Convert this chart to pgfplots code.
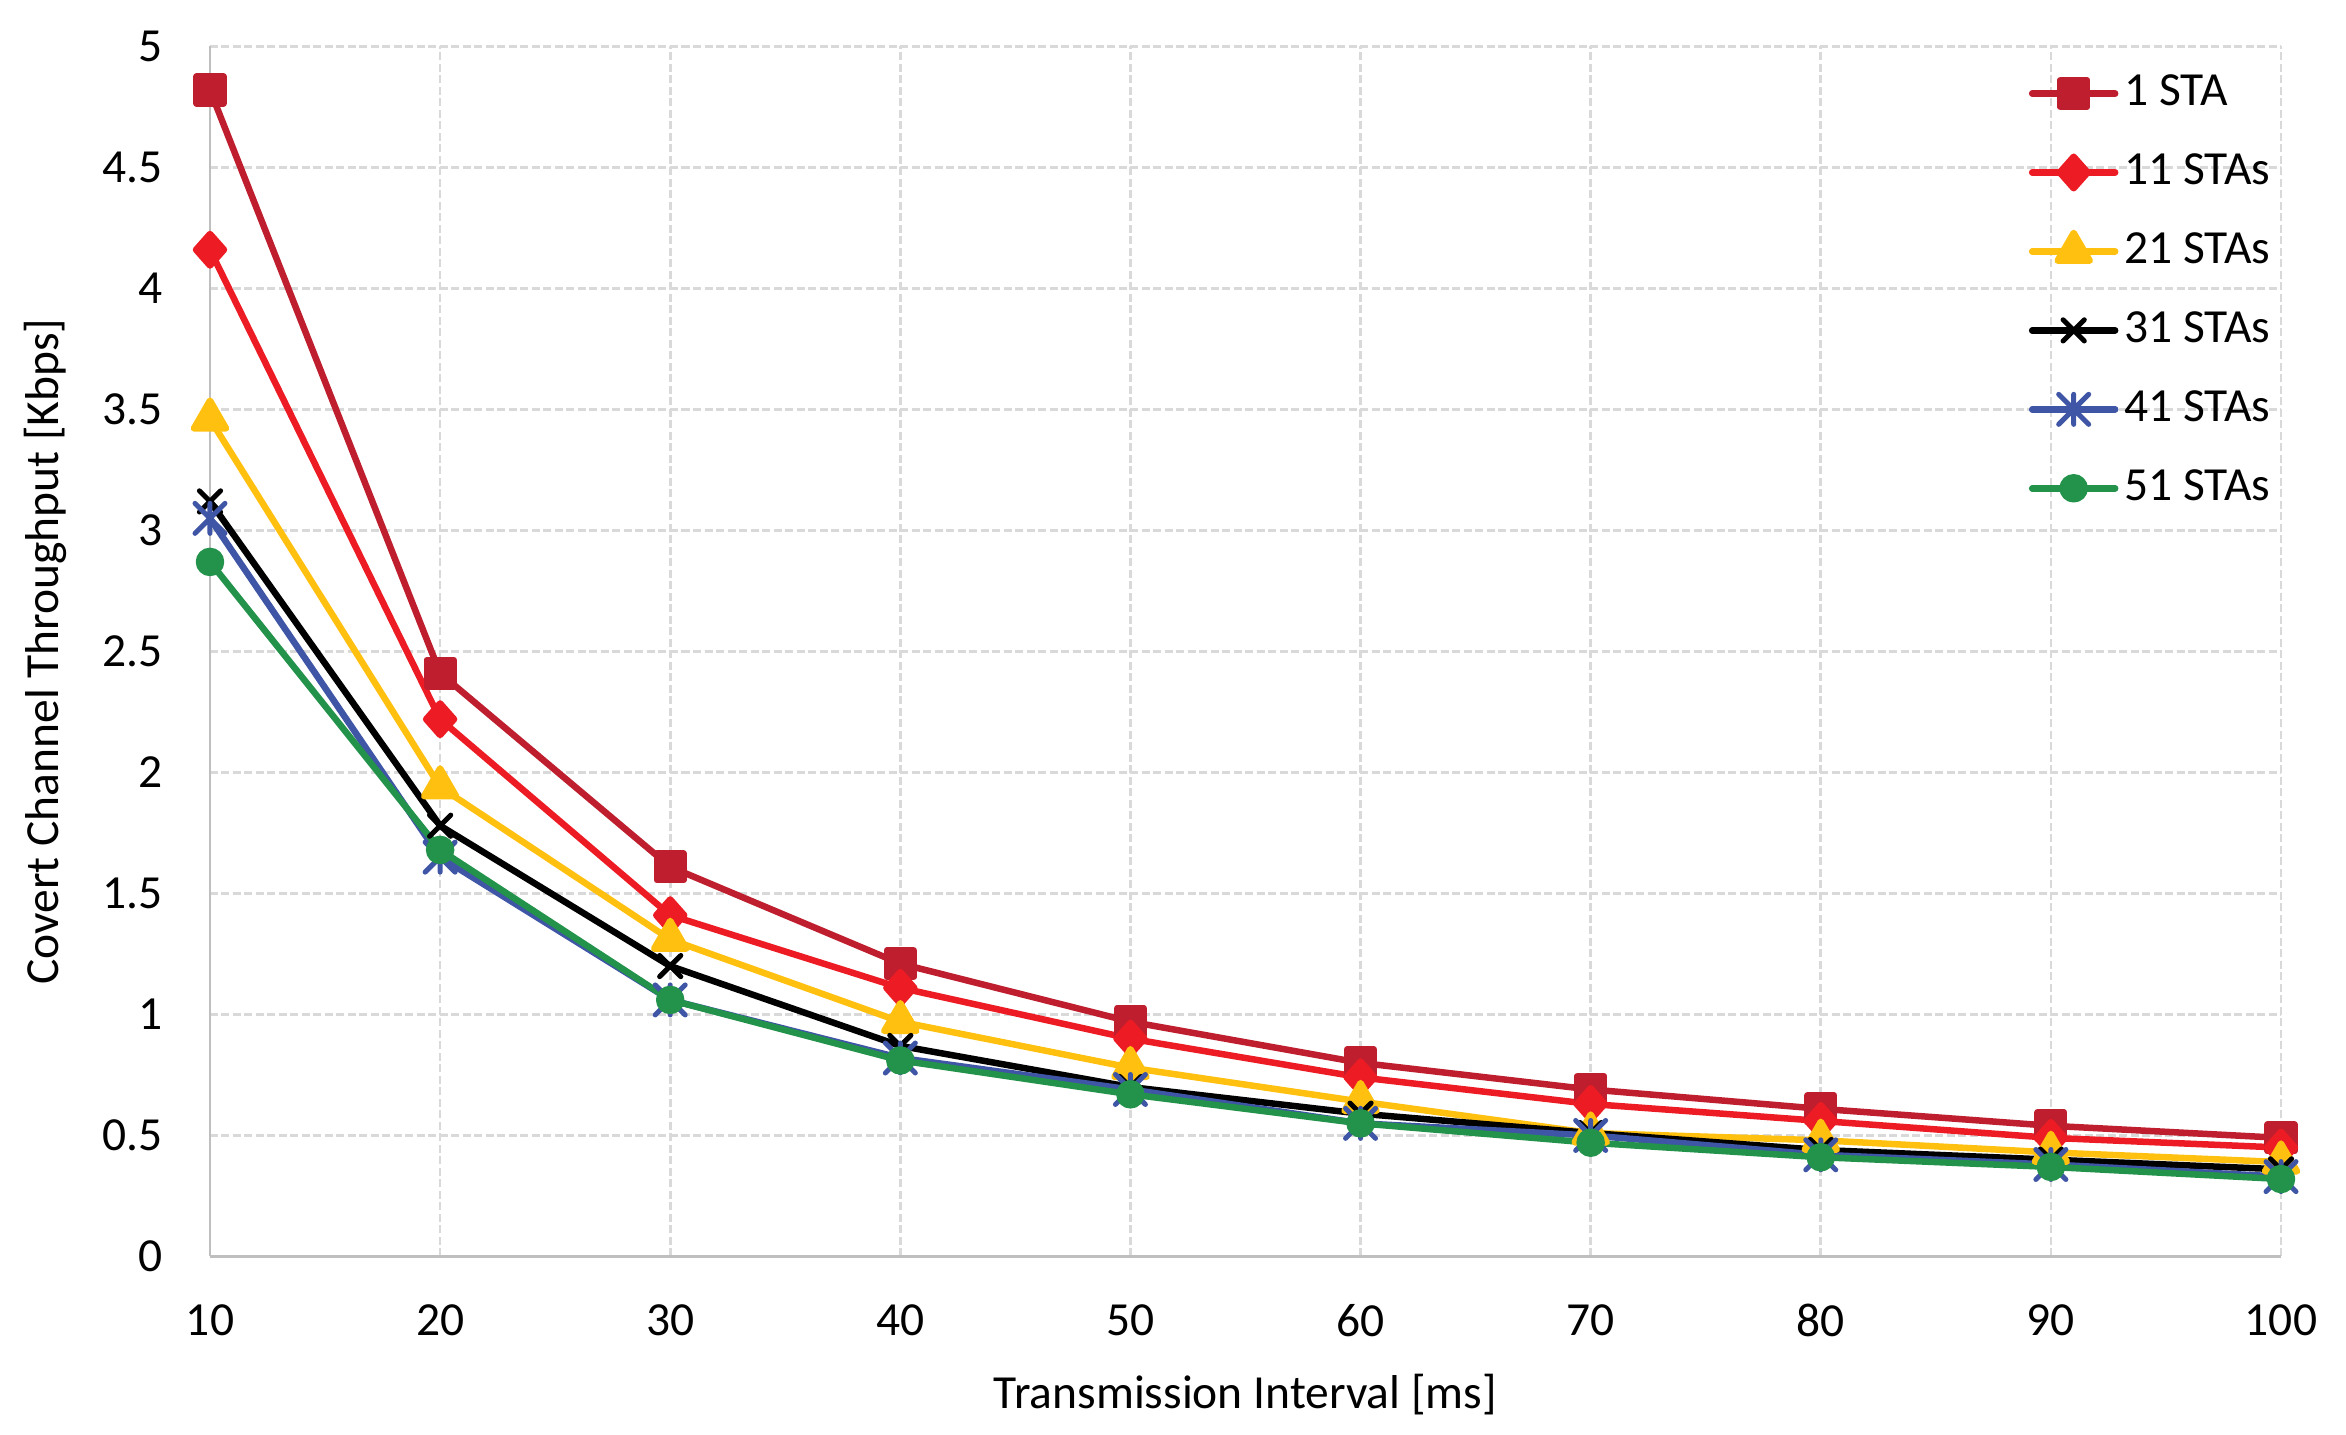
\documentclass[border=0pt]{standalone}
\usepackage{fontspec}
\setmainfont{Carlito}
\usepackage{pgfplots}
\pgfplotsset{compat=1.18}

\definecolor{c1}{HTML}{BE1E2D}
\definecolor{c11}{HTML}{ED1C24}
\definecolor{c21}{HTML}{FFC010}
\definecolor{c31}{HTML}{000000}
\definecolor{c41}{HTML}{3F55A5}
\definecolor{c51}{HTML}{23924A}
\definecolor{gridgray}{HTML}{D9D9D9}
\definecolor{axgray}{HTML}{BFBFBF}

% Excel-style star: an x with a vertical bar
\pgfdeclareplotmark{xstar}{%
  \pgfpathmoveto{\pgfqpoint{-\pgfplotmarksize}{-\pgfplotmarksize}}%
  \pgfpathlineto{\pgfqpoint{\pgfplotmarksize}{\pgfplotmarksize}}%
  \pgfpathmoveto{\pgfqpoint{-\pgfplotmarksize}{\pgfplotmarksize}}%
  \pgfpathlineto{\pgfqpoint{\pgfplotmarksize}{-\pgfplotmarksize}}%
  \pgfpathmoveto{\pgfqpoint{0pt}{-\pgfplotmarksize}}%
  \pgfpathlineto{\pgfqpoint{0pt}{\pgfplotmarksize}}%
  \pgfusepathqstroke}

\begin{document}
\fontsize{9.5}{11.4}\selectfont
\begin{tikzpicture}
\begin{axis}[
    scale only axis,
    width=414.2pt, height=242pt,
    xmin=10, xmax=100,
    ymin=0, ymax=5,
    xtick={10,20,...,100},
    ytick={0,0.5,...,5},
    /pgf/number format/assume math mode=true,
    /pgf/number format/fixed,
    axis x line=bottom, axis y line=left,
    axis line style={axgray, line width=0.55pt, -},
    major tick length=0pt,
    grid=major,
    major grid style={gridgray, line width=0.55pt, dash pattern=on 1.6pt off 0.7pt},
    yticklabel style={xshift=-6.2pt},
    xticklabel style={yshift=-6.2pt},
    xlabel={Transmission Interval [ms]},
    ylabel={Covert Channel Throughput [Kbps]},
    xlabel style={at={(axis description cs:0.5,-0.114)}, anchor=center},
    ylabel style={at={(axis description cs:-0.0797,0.5)}, anchor=center},
    every axis plot/.append style={line width=1.3pt, line cap=round, line join=round},
    legend cell align=left,
    legend style={draw=none, fill=none, at={(axis description cs:0.8778,0.9776)},
      anchor=north west, row sep=8.2pt, inner sep=0pt,
      nodes={inner sep=0pt, inner xsep=1.2pt}},
    legend image code/.code={%
      \draw[mark repeat=2, mark phase=2, #1]
        plot coordinates {(0pt,0pt) (8.3pt,0pt) (16.6pt,0pt)};},
    clip=false,
]
\addplot[c1, mark=square*, mark size=2.67pt, mark options={solid}] coordinates {
    (10,4.82) (20,2.41) (30,1.61) (40,1.21) (50,0.97)
    (60,0.80) (70,0.69) (80,0.61) (90,0.54) (100,0.49)
};
\addlegendentry{1 STA}
\addplot[c11, mark=diamond*, mark size=3.15pt, mark options={solid, xscale=1.18}] coordinates {
    (10,4.16) (20,2.22) (30,1.41) (40,1.11) (50,0.90)
    (60,0.74) (70,0.63) (80,0.56) (90,0.49) (100,0.45)
};
\addlegendentry{11 STAs}
\addplot[c21, mark=triangle*, mark size=3.7pt, mark options={solid}] coordinates {
    (10,3.46) (20,1.94) (30,1.31) (40,0.97) (50,0.78)
    (60,0.64) (70,0.51) (80,0.48) (90,0.43) (100,0.39)
};
\addlegendentry{21 STAs}
\addplot[c31, mark=x, mark size=3pt, mark options={solid, line width=1pt}] coordinates {
    (10,3.12) (20,1.78) (30,1.20) (40,0.87) (50,0.70)
    (60,0.59) (70,0.51) (80,0.44) (90,0.40) (100,0.36)
};
\addlegendentry{31 STAs}
\addplot[c41, mark=xstar, mark size=3pt, mark options={solid, line width=1pt}] coordinates {
    (10,3.05) (20,1.65) (30,1.06) (40,0.82) (50,0.69)
    (60,0.55) (70,0.50) (80,0.42) (90,0.38) (100,0.33)
};
\addlegendentry{41 STAs}
\addplot[c51, mark=*, mark size=2.2pt, mark options={solid}] coordinates {
    (10,2.87) (20,1.68) (30,1.06) (40,0.81) (50,0.67)
    (60,0.55) (70,0.47) (80,0.41) (90,0.37) (100,0.32)
};
\addlegendentry{51 STAs}
\end{axis}
\path (current axis.south west) ++(-42pt,-35.7pt);
\path (current axis.north east) ++(13pt,9.3pt);
\end{tikzpicture}
\end{document}
